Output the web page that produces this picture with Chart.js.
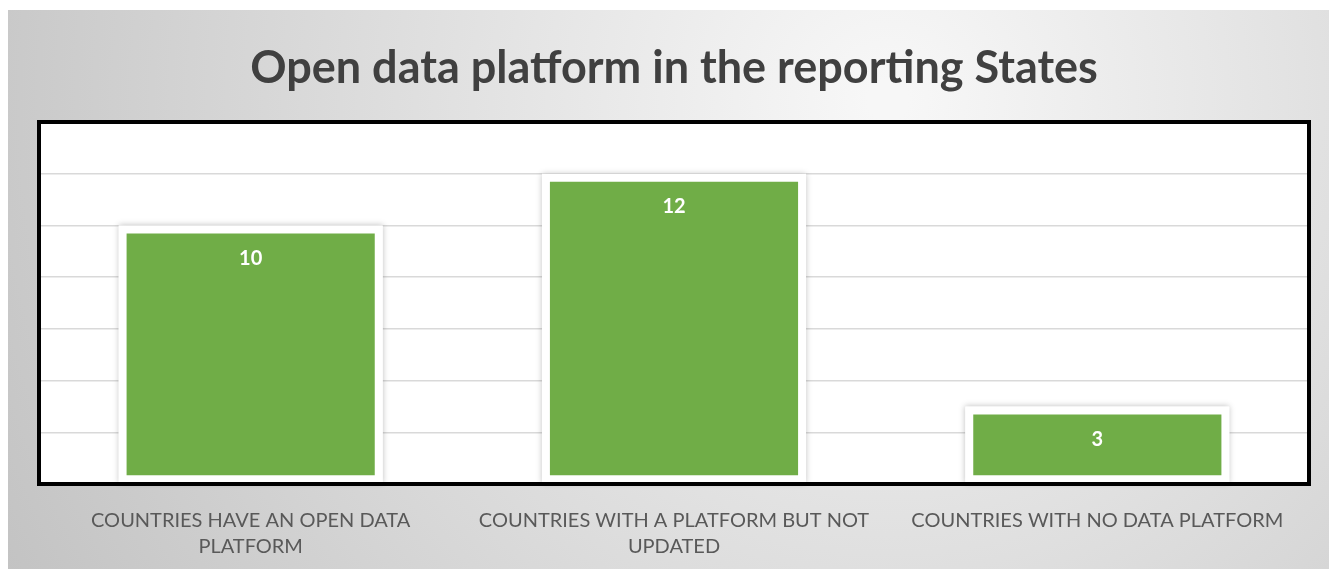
<!DOCTYPE html>
<html>
<head>
<meta charset="utf-8">
<script src="https://cdn.jsdelivr.net/npm/chart.js@4.4.1/dist/chart.umd.min.js"></script>
<style>
  html, body { margin: 0; padding: 0; background: #ffffff; }
  #wrap { position: absolute; left: 8px; top: 10px; width: 1321px; height: 559px; }
</style>
</head>
<body>
<div id="wrap"><canvas id="platformChart"></canvas></div>
<script>
// categories and counts
const categories = [
  ["COUNTRIES HAVE AN OPEN DATA", "PLATFORM"],
  ["COUNTRIES WITH A PLATFORM BUT NOT", "UPDATED"],
  "COUNTRIES WITH NO DATA PLATFORM",
];
const counts = [10, 12, 3];
const yMax = 14;
const yStep = 2;

// grey radial backdrop + white plot area
const backdrop = {
  id: "backdrop",
  beforeDraw(chart) {
    const { ctx, width, height, chartArea } = chart;
    ctx.save();
    const g = ctx.createRadialGradient(880, 90, 20, 880, 90, 1000);
    g.addColorStop(0, "#f7f7f7");
    g.addColorStop(1, "#c3c3c3");
    ctx.fillStyle = g;
    ctx.fillRect(0, 0, width, height);
    ctx.fillStyle = "#ffffff";
    ctx.fillRect(chartArea.left, chartArea.top, chartArea.width, chartArea.height);
    ctx.restore();
  },
  afterDraw(chart) {
    const { ctx, chartArea } = chart;
    ctx.save();
    ctx.strokeStyle = "#000000";
    ctx.lineWidth = 4;
    ctx.strokeRect(chartArea.left, chartArea.top, chartArea.width, chartArea.height);
    ctx.restore();
  },
};

// soft shadow behind bars and value labels on top
const barExtras = {
  id: "barExtras",
  beforeDatasetsDraw(chart) {
    const { ctx } = chart;
    const meta = chart.getDatasetMeta(0);
    ctx.save();
    ctx.shadowColor = "rgba(0,0,0,0.25)";
    ctx.shadowBlur = 6;
    ctx.fillStyle = "#ffffff";
    meta.data.forEach((bar) => {
      ctx.fillRect(bar.x - bar.width / 2, bar.y, bar.width, bar.base - bar.y);
    });
    ctx.restore();
  },
  afterDatasetsDraw(chart) {
    const { ctx } = chart;
    const meta = chart.getDatasetMeta(0);
    ctx.save();
    ctx.fillStyle = "#ffffff";
    ctx.font = "bold 20px Lato";
    ctx.textAlign = "center";
    ctx.textBaseline = "middle";
    meta.data.forEach((bar, i) => {
      ctx.fillText(counts[i], bar.x, bar.y + 33);
    });
    ctx.restore();
  },
};

const ctx = document.getElementById("platformChart").getContext("2d");
const chart = new Chart(ctx, {
  type: "bar",
  data: {
    labels: categories,
    datasets: [
      {
        data: counts,
        backgroundColor: "#70ad47",
        borderColor: "#ffffff",
        borderWidth: 8,
        borderSkipped: false,
        barPercentage: 0.624,
        categoryPercentage: 1,
      },
    ],
  },
  options: {
    responsive: true,
    maintainAspectRatio: false,
    animation: false,
    layout: { padding: { left: 31, right: 20, top: 0, bottom: 0 } },
    scales: {
      x: {
        grid: { display: false, drawTicks: false, tickLength: 0 },
        border: { display: false },
        ticks: {
          color: "#595959",
          font: { family: "Lato", size: 20, lineHeight: 1.3 },
          padding: 24,
          maxRotation: 0,
          autoSkip: false,
        },
        afterFit(scale) {
          scale.height = 85;
        },
      },
      y: {
        min: 0,
        max: yMax,
        ticks: { display: false, stepSize: yStep },
        border: { display: false },
        grid: { color: "#d9d9d9", lineWidth: 1.5, drawTicks: false },
      },
    },
    plugins: {
      legend: { display: false },
      tooltip: { enabled: false },
      title: {
        display: true,
        text: "Open data platform in the reporting States",
        color: "#404040",
        font: { family: "Lato", size: 45, weight: "bold" },
        padding: { top: 31, bottom: 27 },
      },
    },
  },
  plugins: [backdrop, barExtras],
});
</script>
</body>
</html>
